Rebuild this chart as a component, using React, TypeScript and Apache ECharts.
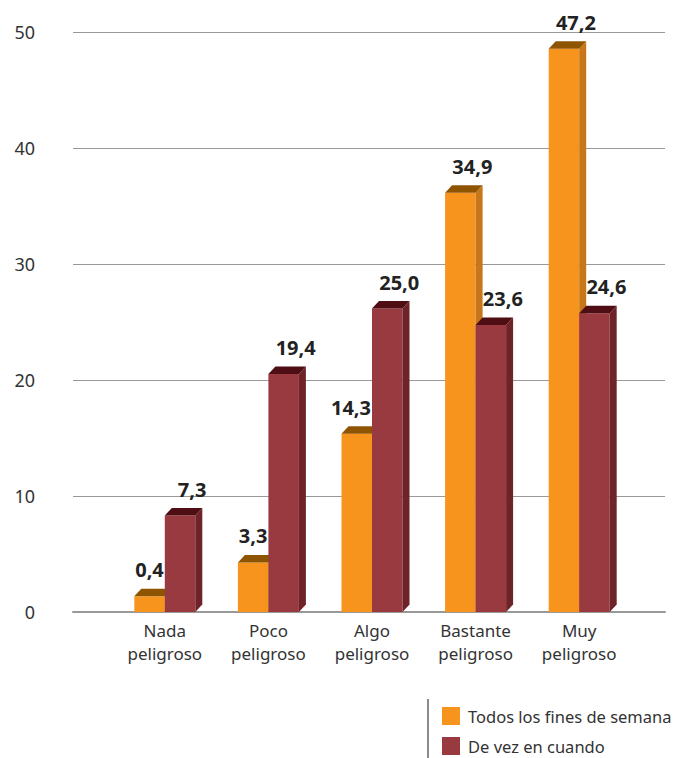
import React, { useEffect, useRef } from "react";
import * as echarts from "echarts";

// Risk perception categories and the share (%) for each frequency group
const categories = [
  "Nada\npeligroso",
  "Poco\npeligroso",
  "Algo\npeligroso",
  "Bastante\npeligroso",
  "Muy\npeligroso",
];
const seriesNames = ["Todos los fines de semana", "De vez en cuando"];
const todosLosFines = [0.4, 3.3, 14.3, 34.9, 47.2];
const deVezEnCuando = [7.3, 19.4, 25.0, 23.6, 24.6];
const yMin = 0;
const yMax = 50;
const yInterval = 10;

// Styling of the pseudo-3D columns
const BAR_W = 30.5;
const DX = 7;
const DY = 7.5;
const FLOOR = 11;
const LABEL_SIZE = 20;
const FONT = '"Noto Sans", "Open Sans", sans-serif';

const palettes = [
  { front: "#F7941D", side: "#C7761A", top: "#8E5400" },
  { front: "#993A40", side: "#6E2329", top: "#4F0E13" },
];

const fmt = (v: number) => v.toFixed(1).replace(".", ",");

function makeRenderItem(idx: number) {
  const pal = palettes[idx];
  return (_params: any, api: any) => {
    const i = api.value(0);
    const v = api.value(1);
    const other = idx === 0 ? deVezEnCuando[i] : todosLosFines[i];
    const [cx, yTop] = api.coord([i, v]);
    const yBottom = api.coord([i, 0])[1] + FLOOR;
    const x0 = idx === 0 ? cx - BAR_W : cx;
    const x1 = x0 + BAR_W;

    // value label: orange labels step left of a taller neighbour column
    let labelX = (x0 + x1) / 2 + 12;
    let align = "center";
    if (idx === 0 && other > v) {
      labelX = x1 - 1;
      align = "right";
    }

    return {
      type: "group",
      children: [
        {
          type: "rect",
          z2: idx * 10,
          shape: { x: x0, y: yTop, width: BAR_W, height: yBottom - yTop },
          style: { fill: pal.front },
        },
        {
          type: "polygon",
          z2: idx * 10,
          shape: {
            points: [
              [x1, yTop],
              [x1 + DX, yTop - DY],
              [x1 + DX, yBottom - DY],
              [x1, yBottom],
            ],
          },
          style: { fill: pal.side },
        },
        {
          type: "polygon",
          z2: idx * 10,
          shape: {
            points: [
              [x0, yTop],
              [x1, yTop],
              [x1 + DX, yTop - DY],
              [x0 + DX, yTop - DY],
            ],
          },
          style: { fill: pal.top },
        },
        {
          type: "text",
          z2: 100,
          style: {
            text: fmt(v),
            x: labelX,
            y: yTop - DY - 9,
            fill: "#222222",
            fontSize: LABEL_SIZE,
            fontWeight: "bold",
            fontFamily: FONT,
            align,
            verticalAlign: "bottom",
          },
        },
      ],
    };
  };
}

export default function App() {
  const ref = useRef<HTMLDivElement>(null);

  useEffect(() => {
    document.body.style.margin = "0";
    if (!ref.current) return;
    const chart = echarts.init(ref.current, undefined, { renderer: "svg" });
    const seriesData = [todosLosFines, deVezEnCuando];
    chart.setOption({
      animation: false,
      backgroundColor: "#ffffff",
      textStyle: { fontFamily: FONT },
      grid: [
        { left: 73, right: 19, top: 32, bottom: 146 },
        { left: 113, right: 53, top: 16, bottom: 157 },
      ],
      xAxis: [
        {
          gridIndex: 0,
          type: "value",
          min: 0,
          max: 1,
          axisLine: { show: true, lineStyle: { color: "#999999", width: 2 } },
          axisTick: { show: false },
          axisLabel: { show: false },
          splitLine: { show: false },
        },
        {
          gridIndex: 1,
          type: "category",
          data: categories,
          axisLine: { show: false },
          axisTick: { show: false },
          axisLabel: {
            margin: 18,
            fontSize: 17,
            lineHeight: 23,
            color: "#333333",
            fontFamily: FONT,
          },
        },
      ],
      yAxis: [
        {
          gridIndex: 0,
          type: "value",
          min: yMin,
          max: yMax,
          interval: yInterval,
          axisLine: { show: false },
          axisTick: { show: false },
          axisLabel: { margin: 38, fontSize: 18, color: "#333333", fontFamily: FONT },
          splitLine: { lineStyle: { color: "#999999", width: 1 } },
        },
        {
          gridIndex: 1,
          type: "value",
          min: yMin,
          max: yMax,
          show: false,
        },
      ],
      legend: {
        orient: "vertical",
        left: 442,
        top: 707,
        padding: 0,
        height: 60,
        width: 240,
        itemWidth: 18,
        itemHeight: 18,
        itemGap: 12,
        icon: "rect",
        data: seriesNames,
        textStyle: {
          fontSize: 16.5,
          color: "#333333",
          fontFamily: FONT,
          padding: [0, 0, 0, 3],
        },
      },
      graphic: [
        {
          type: "line",
          shape: { x1: 428, y1: 699, x2: 428, y2: 758 },
          style: { stroke: "#8a8a8a", lineWidth: 2 },
        },
      ],
      series: seriesNames.map((name, idx) => ({
        name,
        type: "custom",
        xAxisIndex: 1,
        yAxisIndex: 1,
        itemStyle: { color: palettes[idx].front },
        renderItem: makeRenderItem(idx),
        encode: { x: 0, y: 1 },
        data: seriesData[idx].map((v, i) => [i, v]),
        z: 2,
      })),
    });
    return () => chart.dispose();
  }, []);

  return <div ref={ref} style={{ width: 684, height: 758 }} />;
}
